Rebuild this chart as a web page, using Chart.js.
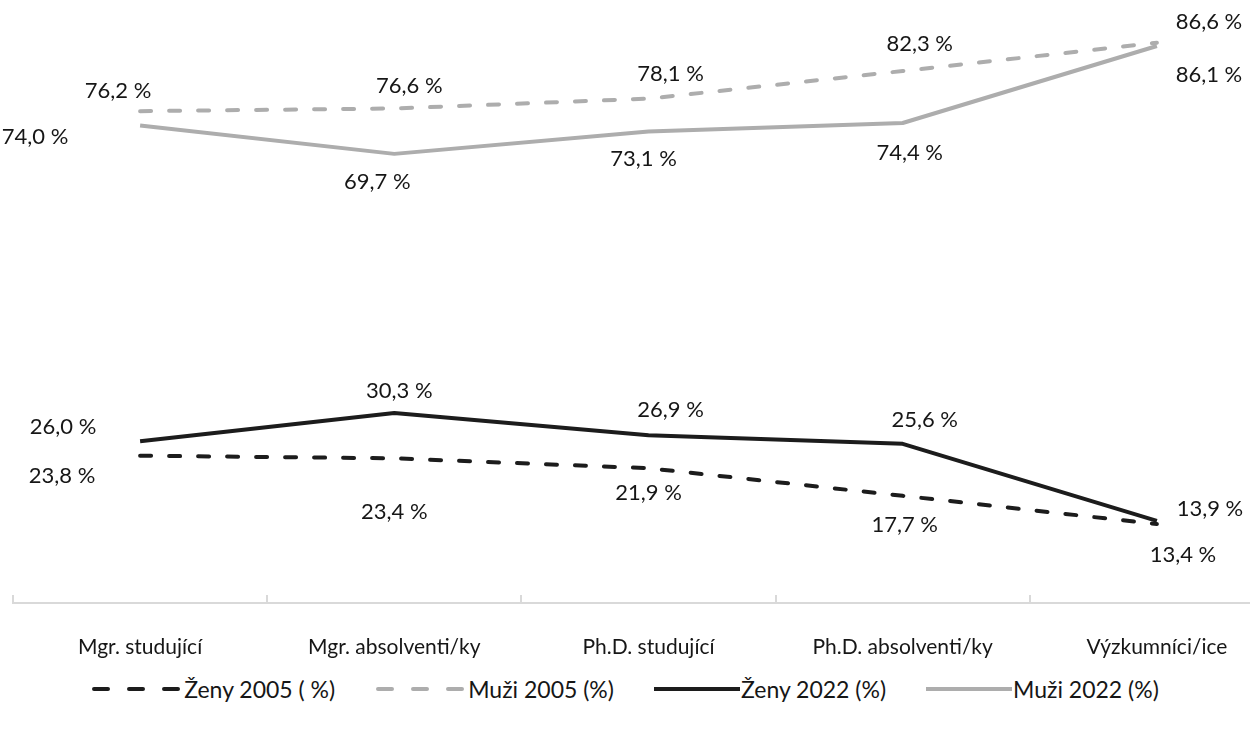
<!DOCTYPE html>
<html>
<head>
<meta charset="utf-8">
<script src="https://cdn.jsdelivr.net/npm/chart.js@4/dist/chart.umd.min.js"></script>
<style>
  html, body { margin: 0; padding: 0; background: #fff; }
  #wrap { position: relative; width: 1250px; height: 729px; overflow: hidden; }
  #box { position: absolute; left: 0; top: 0; width: 1290px; height: 665px; }
  #legend {
    position: absolute; left: 0; top: 675px; width: 1250px;
    display: flex; justify-content: center; align-items: center;
    font: 23px Lato, sans-serif; color: #161616;
  }
  .item { display: flex; align-items: center; margin: 0 20px; }
  .item svg { display: block; margin-right: 1px; }
</style>
</head>
<body>
<div id="wrap">
  <div id="box"><canvas id="chart"></canvas></div>
  <div id="legend"></div>
</div>
<script>
// --- Data ---
const categories = ['Mgr. studující', 'Mgr. absolventi/ky', 'Ph.D. studující', 'Ph.D. absolventi/ky', 'Výzkumníci/ice'];
const seriesNames = ['Ženy 2005 ( %)', 'Muži 2005 (%)', 'Ženy 2022 (%)', 'Muži 2022 (%)'];
const zeny2005 = [23.8, 23.4, 21.9, 17.7, 13.4];
const muzi2005 = [76.2, 76.6, 78.1, 82.3, 86.6];
const zeny2022 = [26.0, 30.3, 26.9, 25.6, 13.9];
const muzi2022 = [74.0, 69.7, 73.1, 74.4, 86.1];

// --- Styling ---
const black = '#1c1c1c';
const gray = '#adadad';
const textColor = '#161616';
const dash = [11, 18];

// label offsets (dx, dy) from each point, per series (same order as seriesNames)
const labelOffsets = [
  [[-78, 20], [0, 54], [0, 25], [2, 29], [26, 31]],
  [[-22, -20], [15, -23], [22, -25], [17, -27], [52, -21]],
  [[-77, -14], [5, -22], [22, -25], [22, -24], [53, -12]],
  [[-105, 11], [-17, 28], [-5, 27], [7, 30], [52, 29]]
];

function fmt(v) {
  return v.toFixed(1).replace('.', ',') + ' %';
}

// --- Data labels plugin ---
const dataLabels = {
  id: 'dataLabels',
  afterDatasetsDraw(chart) {
    const ctx = chart.ctx;
    ctx.save();
    ctx.font = '22px Lato, sans-serif';
    ctx.fillStyle = textColor;
    ctx.textAlign = 'center';
    ctx.textBaseline = 'middle';
    chart.data.datasets.forEach((ds, i) => {
      const meta = chart.getDatasetMeta(i);
      const offs = labelOffsets[ds.seriesIndex];
      meta.data.forEach((pt, j) => {
        ctx.fillText(fmt(ds.data[j]), pt.x + offs[j][0], pt.y + offs[j][1]);
      });
    });
    ctx.restore();
  }
};

function makeDataset(idx, data, color, dashed) {
  return {
    label: seriesNames[idx],
    seriesIndex: idx,
    data: data,
    borderColor: color,
    backgroundColor: color,
    borderWidth: 4,
    borderDash: dashed ? dash : [],
    borderCapStyle: dashed ? 'round' : 'butt',
    borderJoinStyle: 'round',
    pointRadius: 0,
    tension: 0,
    fill: false
  };
}

// gray series drawn first, black on top
const datasets = [
  makeDataset(1, muzi2005, gray, true),
  makeDataset(3, muzi2022, gray, false),
  makeDataset(0, zeny2005, black, true),
  makeDataset(2, zeny2022, black, false)
];

const ctx = document.getElementById('chart').getContext('2d');
const chart = new Chart(ctx, {
  type: 'line',
  data: { labels: categories, datasets: datasets },
  options: {
    responsive: true,
    maintainAspectRatio: false,
    animation: false,
    layout: { padding: { left: 13, right: 6, top: 0, bottom: 0 } },
    plugins: { legend: { display: false }, tooltip: { enabled: false } },
    scales: {
      x: {
        offset: true,
        grid: {
          offset: true,
          drawOnChartArea: false,
          drawTicks: true,
          tickLength: -8,
          color: '#d9d9d9',
          lineWidth: 2
        },
        border: { color: '#d9d9d9', width: 2 },
        ticks: {
          color: textColor,
          font: { family: 'Lato', size: 21 },
          padding: 40,
          maxRotation: 0,
          autoSkip: false
        },
        afterFit(scale) { scale.height = 62; }
      },
      y: {
        display: false,
        min: 1.4,
        max: 93.1
      }
    }
  },
  plugins: [dataLabels]
});

// --- Legend ---
const legendItems = [
  { idx: 0, color: black, dashed: true },
  { idx: 1, color: gray, dashed: true },
  { idx: 2, color: black, dashed: false },
  { idx: 3, color: gray, dashed: false }
];
const legend = document.getElementById('legend');
legendItems.forEach(it => {
  const w = it.dashed ? 92 : 86;
  const line = it.dashed
    ? `<line x1="3" y1="6" x2="${w - 2}" y2="6" stroke="${it.color}" stroke-width="4" stroke-linecap="round" stroke-dasharray="14 21"/>`
    : `<line x1="0" y1="6" x2="${w}" y2="6" stroke="${it.color}" stroke-width="4"/>`;
  legend.innerHTML += `
    <div class="item">
      <svg width="${w}" height="12">${line}</svg>
      <span>${seriesNames[it.idx]}</span>
    </div>`;
});
</script>
</body>
</html>
